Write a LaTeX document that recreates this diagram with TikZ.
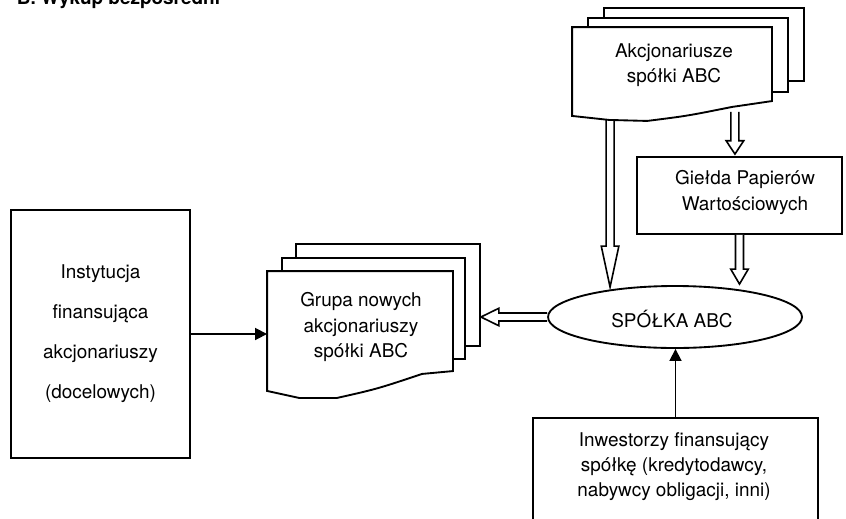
\documentclass[tikz,border=0pt]{standalone}
\usepackage{fontspec}
\setmainfont{TeX Gyre Heros}
\usetikzlibrary{calc,arrows.meta,shapes.geometric}
\newcommand\blockarr[3]{%
  \draw[fill=white, line width=1.2pt] let \p1=(#2), \p2=(#3), \n1={atan2(\y2-\y1,\x2-\x1)} in
    ($(\p1)+({\n1+90}:3pt)$) -- ($(\p2)+({\n1+180}:#1)+({\n1+90}:3pt)$) --
    ($(\p2)+({\n1+180}:#1)+({\n1+90}:6.6pt)$) -- (\p2) --
    ($(\p2)+({\n1+180}:#1)+({\n1-90}:6.6pt)$) -- ($(\p2)+({\n1+180}:#1)+({\n1-90}:3pt)$) --
    ($(\p1)+({\n1-90}:3pt)$);
}
\begin{document}
\begin{tikzpicture}[x=0.75pt,y=-0.75pt, line width=1.4pt, line join=miter,
  lbl/.style={font=\fontsize{14.2}{18.8}\selectfont, align=center, inner sep=0pt},
  boxn/.style={draw, inner sep=0pt},
  page/.style={draw, fill=white},
  thinarrow/.style={-{Triangle[length=9pt,width=9pt]}, line width=1.3pt}]
\useasboundingbox (0,0) rectangle (846,518);

% title
\node[anchor=base west, font=\bfseries\fontsize{14.2}{17}\selectfont, inner sep=0pt] (title) at (16,4) {B. Wykup bezpośredni};

% geometry nodes
\node[minimum width=148.5pt, minimum height=65.25pt, inner sep=0pt] (akc) at (672,71.5) {};
\node[minimum width=138pt, minimum height=88.5pt, inner sep=0pt] (grp) at (360,331) {};
\node[boxn, minimum width=153.75pt, minimum height=57.75pt] (gpw) at (739.5,195.5) {};
\node[lbl] (gpwt) at (745,192.5) {Giełda Papierów\\Wartościowych};
\node[draw, ellipse, inner sep=0pt, minimum width=190.5pt, minimum height=46.5pt] (spolka) at (675,317) {};
\node[lbl] (spolkat) at (672,319) {SPÓŁKA ABC};
\node[boxn, minimum width=134.25pt, minimum height=186pt, font=\fontsize{14.2}{30}\selectfont, align=center] (inst) at (100.5,334)
  {Instytucja\\finansująca\\akcjonariuszy\\(docelowych)};
\node[boxn, minimum width=213.75pt, minimum height=96pt, anchor=north] (inw) at (675.5,417) {};
\node[lbl] (inwt) at (674,467) {Inwestorzy finansujący\\spółkę (kredytodawcy,\\nabywcy obligacji, inni)};

% block arrows from the shareholders document (drawn first, covered by it)
\coordinate (a1) at ($(akc.south west)+(38,0)$);
\coordinate (a2) at ($(akc.south east)+(-37,-4)$);
\blockarr{30.75pt}{a1}{$(a1 |- spolka.north)+(0,2)$}
\blockarr{10pt}{a2}{$(a2 |- gpw.north)+(0,-2)$}
\blockarr{11.25pt}{gpw.south}{$(gpw.south |- spolka.north)+(0,-1)$}

% stacked documents: Akcjonariusze
\draw[page] ($(akc.north west)+(32,-19)$) rectangle ($(akc.north east)+(32,54)$);
\draw[page] ($(akc.north west)+(16,-9)$) rectangle ($(akc.north east)+(16,65)$);
\draw[page] (akc.south west) -- (akc.north west) -- (akc.north east) -- ($(akc.north east)+(0,74)$)
  -- ($(akc.south west)+(160,-9)$) .. controls ($(akc.south west)+(115,0)$) .. ($(akc.south west)+(75,5)$)
  -- ($(akc.south west)+(37,4)$) -- cycle;
\node[lbl] (akct) at (674,65) {Akcjonariusze\\spółki ABC};

% stacked documents: Grupa
\draw[page] ($(grp.north west)+(29,-27)$) rectangle ($(grp.north east)+(27,75)$);
\draw[page] ($(grp.north west)+(15,-13)$) rectangle ($(grp.north east)+(12,88)$);
\draw[page] (grp.south west) -- (grp.north west) -- (grp.north east) -- ($(grp.north east)+(0,100)$)
  -- ($(grp.south west)+(155,-17)$) .. controls ($(grp.south west)+(110,-2)$) .. ($(grp.south west)+(70,7)$)
  -- ($(grp.south west)+(32,7)$) -- cycle;
\node[lbl] (grpt) at (361,327) {Grupa nowych\\akcjonariuszy\\spółki ABC};

% other connectors
\coordinate (grpback) at ($(grp.north east)+(28,0)$);
\blockarr{13.5pt}{spolka.west}{grpback |- spolka.west}
\draw[thinarrow] (inst.east) -- (inst.east -| grp.west);
\draw[thinarrow] (inw.north) -- (inw.north |- spolka.south);
\end{tikzpicture}
\end{document}
